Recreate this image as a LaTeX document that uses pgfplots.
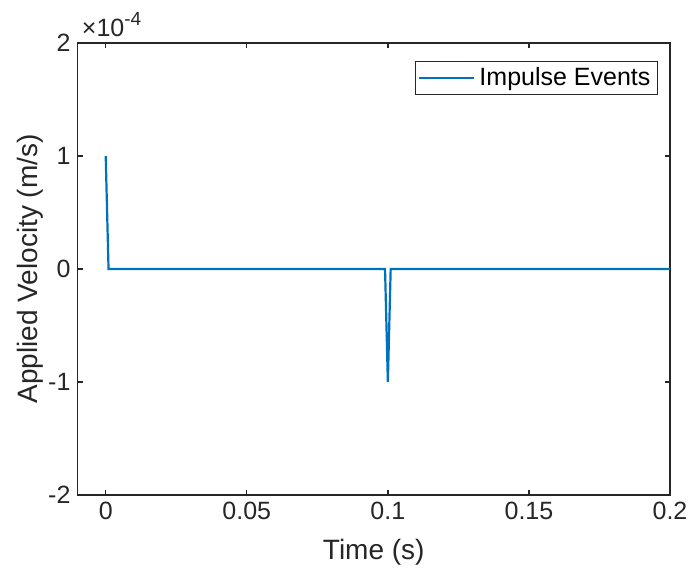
\documentclass[border=0pt]{standalone}
\usepackage{fontspec}
\setmainfont{Liberation Sans}
\usepackage{pgfplots}
\pgfplotsset{compat=1.18}
\definecolor{mblue}{rgb}{0,0.447,0.741}
\definecolor{axgray}{rgb}{0.15,0.15,0.15}
\begin{document}
\begin{tikzpicture}
\begin{axis}[
  scale only axis,
  clip=false,
  width=296.25pt, height=226pt,
  xmin=-0.01, xmax=0.2,
  ymin=-2e-4, ymax=2e-4,
  xtick={0,0.05,0.1,0.15,0.2},
  xticklabels={0,0.05,0.1,0.15,0.2},
  ytick={-2e-4,-1e-4,0,1e-4,2e-4},
  yticklabels={-2,-1,0,1,2},
  scaled y ticks=false,
  tick align=inside,
  major tick length=2.5pt,
  axis line style={axgray, line width=0.7pt},
  every tick/.style={axgray, line width=0.7pt},
  tick label style={font=\fontsize{12.5}{15}\selectfont, text=axgray},
  /pgf/number format/assume math mode=true,
  xlabel={Time (s)},
  ylabel={Applied Velocity (m/s)},
  label style={font=\fontsize{14}{16}\selectfont, text=axgray},
  xlabel style={at={(axis description cs:0.5,-0.126)}, anchor=center},
  ylabel style={at={(axis description cs:-0.08,0.5)}, anchor=center},
  legend style={at={(rel axis cs:1,1)}, anchor=north east, xshift=-6pt, yshift=-9pt,
    font=\fontsize{12.5}{15}\selectfont, text=black, draw=axgray, line width=0.6pt,
    inner xsep=1.5pt, inner ysep=1pt},
  legend cell align=left,
  legend image code/.code={\draw[#1, line width=1.1pt] (0pt,0pt) -- (27.5pt,0pt);},
]
\addplot[mblue, line width=1.1pt] coordinates {
  (0,1e-4) (0.001,0) (0.099,0) (0.1,-1e-4) (0.101,0) (0.2,0)
};
\addlegendentry{Impulse Events}
\node[anchor=base west, inner sep=0pt, text=axgray, font=\fontsize{12.5}{15}\selectfont]
  at (rel axis cs:0,1) [xshift=2pt, yshift=3.5pt] {×10\raisebox{5.5pt}{\fontsize{9.5}{11}\selectfont -4}};
\end{axis}
\pgfresetboundingbox
\path[use as bounding box] (-38.75pt,-39.5pt) rectangle (305.75pt,247.5pt);
\end{tikzpicture}
\end{document}
